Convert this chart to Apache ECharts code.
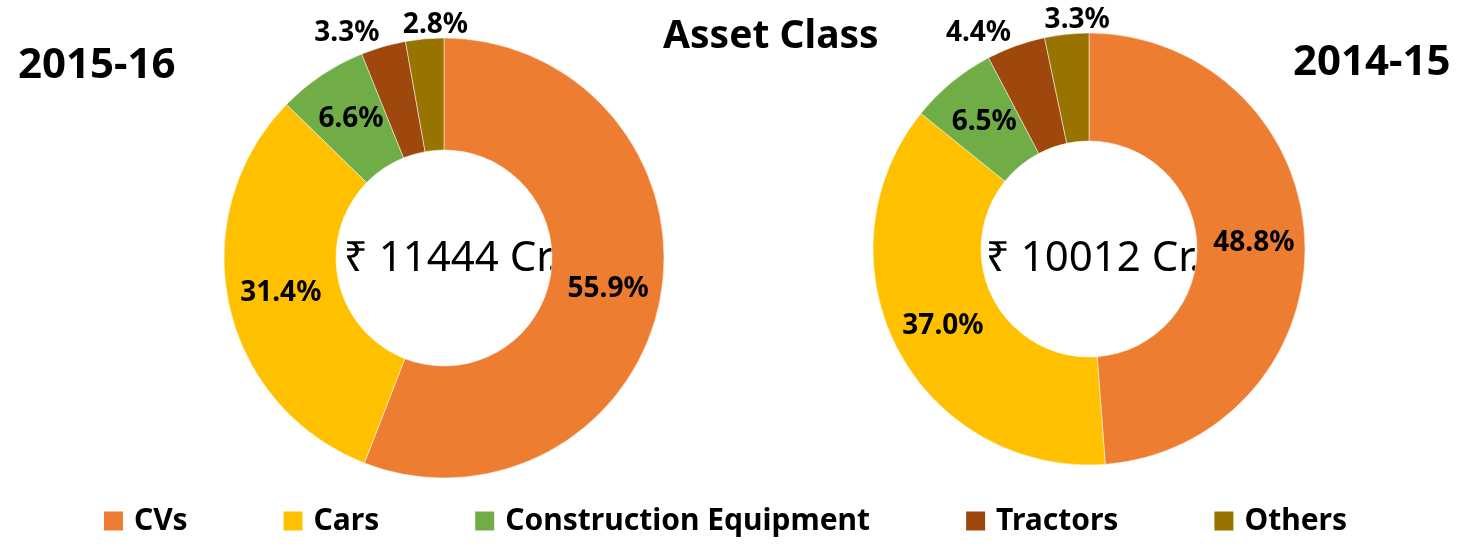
<!DOCTYPE html>
<html>
<head>
<meta charset="utf-8">
<script src="https://cdn.jsdelivr.net/npm/echarts@6/dist/echarts.min.js"></script>
<style>
  html, body { margin: 0; padding: 0; background: #fff; }
  #main { width: 1460px; height: 548px; }
</style>
</head>
<body>
<div id="main"></div>
<script>
// 资产类别 (Asset Class)
var categories = ['CVs', 'Cars', 'Construction Equipment', 'Tractors', 'Others'];
var colors = ['#ED7D31', '#FFC000', '#70AD47', '#9E480E', '#997300'];
var share2016 = [55.9, 31.4, 6.6, 3.3, 2.8];
var share2015 = [48.8, 37.0, 6.5, 4.4, 3.3];
var total2016 = '₹ 11444 Cr.';
var total2015 = '₹ 10012 Cr.';
var smallSlices = ['Tractors', 'Others']; // 标签放在外面

var fontFamily = '"Noto Sans", "Open Sans", sans-serif';
var labelSize = 28;

function buildData(values) {
    var list = [];
    for (var i = 0; i < categories.length; i++) {
        var item = { name: categories[i], value: values[i] };
        if (smallSlices.indexOf(categories[i]) >= 0) {
            item.label = { position: 'outside', fontSize: labelSize, fontWeight: 'bold',
                           fontFamily: fontFamily, color: '#000' };
        }
        list.push(item);
    }
    return list;
}

function pieSeries(values, center, radius) {
    return {
        type: 'pie',
        center: center,
        radius: radius,
        startAngle: 90,
        clockwise: true,
        avoidLabelOverlap: false,
        data: buildData(values),
        label: {
            show: true,
            position: 'inside',
            formatter: function (p) { return p.value.toFixed(1) + '%'; },
            color: '#000',
            fontWeight: 'bold',
            fontSize: labelSize,
            fontFamily: fontFamily
        },
        // 引线不显示, 只用来定位外部标签
        labelLine: { show: true, length: 14, length2: 0, lineStyle: { opacity: 0 } },
        labelLayout: function (params) {
            var pts = params.labelLinePoints;
            if (pts && pts.length) {
                var end = pts[pts.length - 1];
                if (params.dataIndex === 4) {
                    // Others 标签居中放在扇区上方
                    return { x: end[0], y: end[1], align: 'center', verticalAlign: 'middle',
                             dx: 12, fontSize: labelSize };
                }
                return { x: end[0], y: end[1], align: 'right', verticalAlign: 'middle',
                         fontSize: labelSize };
            }
        },
        itemStyle: { borderColor: '#fff', borderWidth: 0.5 },
        emphasis: { disabled: true }
    };
}

var chart = echarts.init(document.getElementById('main'));
var option = {
    animation: false,
    color: colors,
    title: [
        { text: 'Asset Class', left: 658, top: 12,
          textStyle: { fontSize: 39, fontWeight: 'bold', color: '#000', fontFamily: fontFamily } },
        { text: '2015-16', left: 13, top: 40,
          textStyle: { fontSize: 42, fontWeight: 'bold', color: '#000', fontFamily: fontFamily } },
        { text: '2014-15', left: 1288, top: 37,
          textStyle: { fontSize: 42, fontWeight: 'bold', color: '#000', fontFamily: fontFamily } }
    ],
    legend: {
        bottom: 7,
        left: 97,
        icon: 'rect',
        itemWidth: 21,
        itemHeight: 21,
        itemGap: 94,
        data: categories,
        textStyle: { fontSize: 30, fontWeight: 'bold', color: '#000', fontFamily: fontFamily,
                     padding: [0, 0, 0, 5] }
    },
    graphic: [
        { type: 'text', x: 451, y: 259,
          style: { text: total2016, align: 'center', verticalAlign: 'middle',
                   fontSize: 42, fill: '#000', fontFamily: fontFamily } },
        { type: 'text', x: 1093, y: 259,
          style: { text: total2015, align: 'center', verticalAlign: 'middle',
                   fontSize: 42, fill: '#000', fontFamily: fontFamily } }
    ],
    series: [
        pieSeries(share2016, [444, 258], [108, 220]),
        pieSeries(share2015, [1089, 249], [108, 216])
    ]
};
chart.setOption(option);
</script>
</body>
</html>
